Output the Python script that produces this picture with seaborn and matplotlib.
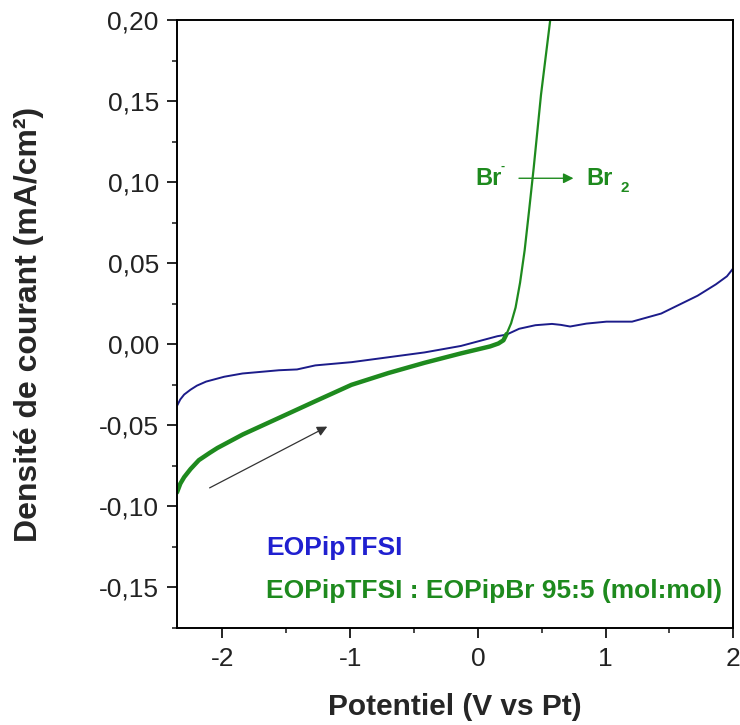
import numpy as np
import pandas as pd
import matplotlib
matplotlib.use("Agg")
import matplotlib.pyplot as plt
from matplotlib.ticker import MultipleLocator, FuncFormatter
import seaborn as sns

# Data
blue_v = [-2.356, -2.33, -2.30, -2.25, -2.20, -2.128, -1.986, -1.843, -1.70, -1.558, -1.416,
          -1.273, -0.988, -0.703, -0.418, -0.133, 0.152, 0.224, 0.323, 0.45, 0.580, 0.65,
          0.722, 0.85, 1.007, 1.207, 1.435, 1.720, 1.863, 1.95, 2.000]
blue_i = [-0.038, -0.034, -0.031, -0.028, -0.0255, -0.023, -0.020, -0.018, -0.017, -0.016,
          -0.0155, -0.013, -0.011, -0.008, -0.005, -0.001, 0.005, 0.006, 0.0096, 0.0118,
          0.0126, 0.012, 0.011, 0.0128, 0.014, 0.014, 0.019, 0.030, 0.037, 0.042, 0.047]

green_v_low = [-2.356, -2.33, -2.30, -2.25, -2.185, -2.10, -2.04, -1.84, -1.56, -1.27,
               -0.99, -0.70, -0.418, -0.133, 0.095, 0.16, 0.20, 0.224]
green_i_low = [-0.0914, -0.086, -0.082, -0.077, -0.0715, -0.067, -0.064, -0.0556, -0.0455,
               -0.035, -0.025, -0.0177, -0.0114, -0.0056, -0.0013, 0.0005, 0.0025, 0.0063]
green_v_high = [0.224, 0.26, 0.295, 0.33, 0.366, 0.40, 0.437, 0.494, 0.566, 0.58]
green_i_high = [0.0063, 0.013, 0.0227, 0.038, 0.058, 0.082, 0.109, 0.154, 0.20, 0.21]

x_ticks = [-2, -1, 0, 1, 2]
y_ticks = [-0.15, -0.10, -0.05, 0.00, 0.05, 0.10, 0.15, 0.20]

legend_labels = ["EOPipTFSI", "EOPipTFSI : EOPipBr 95:5 (mol:mol)"]

blue_c = "#1c1c8a"
green_c = "#1e8a1e"
legend_blue = "#2020d0"

sns.set_style("ticks")
plt.rcParams['font.family'] = ['Liberation Sans', 'DejaVu Sans']

fig = plt.figure(figsize=(7.4, 7.25), dpi=100)
ax = fig.add_axes([0.239, 0.134, 0.752, 0.838])

df_b = pd.DataFrame({"V": blue_v, "I": blue_i})
df_gl = pd.DataFrame({"V": green_v_low, "I": green_i_low})
df_gh = pd.DataFrame({"V": green_v_high, "I": green_i_high})

sns.lineplot(data=df_b, x="V", y="I", ax=ax, color=blue_c, lw=1.4, sort=False)
sns.lineplot(data=df_gl, x="V", y="I", ax=ax, color=green_c, lw=3.2, sort=False)
sns.lineplot(data=df_gh, x="V", y="I", ax=ax, color=green_c, lw=1.6, sort=False)

ax.set_xlim(-2.357, 2.0)
ax.set_ylim(-0.175, 0.20)
ax.set_xticks(x_ticks)
ax.set_yticks(y_ticks)
ax.xaxis.set_minor_locator(MultipleLocator(0.5))
ax.yaxis.set_minor_locator(MultipleLocator(0.025))

fmt_x = FuncFormatter(lambda v, p: f"{v:.0f}")
fmt_y = FuncFormatter(lambda v, p: f"{v:.2f}".replace(".", ",").replace("-0,00", "0,00"))
ax.xaxis.set_major_formatter(fmt_x)
ax.yaxis.set_major_formatter(fmt_y)

ax.tick_params(axis="both", which="major", direction="out", length=7, width=1.2,
               labelsize=19, colors="black", labelcolor="#222222")
ax.tick_params(axis="y", which="major", pad=6)
ax.tick_params(axis="x", which="major", pad=7)
ax.tick_params(axis="both", which="minor", direction="out", length=3.5, width=1.2)
ax.tick_params(top=False, right=False, which="both")
for s in ax.spines.values():
    s.set_linewidth(1.4)
    s.set_color("black")

ax.set_xlabel("Potentiel (V vs Pt)", fontsize=21.5, fontweight="bold")
ax.set_ylabel("Densité de courant (mA/cm²)", fontsize=23, fontweight="bold")
ax.xaxis.label.set_va("center")
ax.yaxis.label.set_va("center")
ax.xaxis.set_label_coords(0.5, -0.13)
ax.yaxis.set_label_coords(-0.266, 0.5)

# Annotations
ax.text(0.08, 0.1025, "Br", color=green_c, fontsize=17, fontweight="bold",
        ha="center", va="center")
ax.text(0.19, 0.1095, "-", color=green_c, fontsize=9, fontweight="bold",
        ha="center", va="center")
ax.annotate("", xy=(0.77, 0.1025), xytext=(0.30, 0.1025),
            arrowprops=dict(arrowstyle="-|>", color=green_c, lw=1.0, mutation_scale=15))
ax.text(0.85, 0.1025, "Br", color=green_c, fontsize=17, fontweight="bold",
        ha="left", va="center")
ax.text(1.12, 0.0965, "2", color=green_c, fontsize=11, fontweight="bold",
        ha="left", va="center")

ax.annotate("", xy=(-1.16, -0.050), xytext=(-2.12, -0.0894),
            arrowprops=dict(arrowstyle="-|>", color="#333333", lw=0.9, mutation_scale=15))

ax.text(-1.66, -0.1255, legend_labels[0], color=legend_blue, fontsize=19,
        fontweight="bold", ha="left", va="center")
ax.text(-1.66, -0.1525, legend_labels[1], color=green_c, fontsize=19,
        fontweight="bold", ha="left", va="center")

fig.savefig("out.png", dpi=100)
